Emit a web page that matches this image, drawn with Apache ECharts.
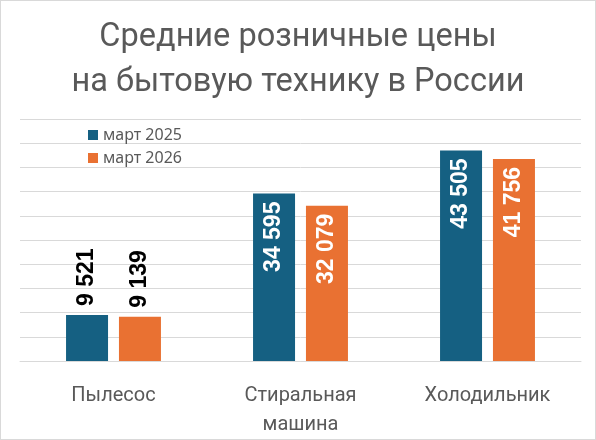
<!DOCTYPE html>
<html><head><meta charset="utf-8">
<script src="https://cdn.jsdelivr.net/npm/echarts@6/dist/echarts.min.js"></script>
<style>html,body{margin:0;padding:0;background:#fff}#c{width:594px;height:438px;border:1px solid #d9d9d9}</style>
</head><body><div id="c"></div>
<script>
const titleText = 'Средние розничные цены\nна бытовую технику в России';
const categories = ['Пылесос', 'Стиральная\nмашина', 'Холодильник'];
const seriesNames = ['март 2025', 'март 2026'];
const values2025 = [9521, 34595, 43505];
const values2026 = [9139, 32079, 41756];
const colors = ['#156082', '#E97132'];

const fmt = v => String(v).replace(/\B(?=(\d{3})+(?!\d))/g, ' ');
function toItems(arr) {
  return arr.map(v => {
    const outside = v < 20000;
    return {
      value: v,
      label: outside ? {
        position: 'top', rotate: 90, align: 'left', verticalAlign: 'middle',
        distance: 9, color: '#000'
      } : {
        position: 'insideTop', rotate: 90, align: 'right', verticalAlign: 'middle',
        distance: 8, color: '#fff'
      }
    };
  });
}
const chart = echarts.init(document.getElementById('c'));
const baseLabel = {
  show: true, fontFamily: 'Liberation Sans', fontWeight: 'bold', fontSize: 23,
  formatter: p => fmt(p.value)
};
chart.setOption({
  animation: false,
  title: {
    text: titleText, left: 'center', top: 9,
    textStyle: { fontFamily: 'Roboto', fontWeight: 'normal', fontSize: 32.5, color: '#595959', lineHeight: 45 }
  },
  legend: {
    orient: 'vertical', left: 82, top: 121, itemWidth: 10, itemHeight: 10, itemGap: 7,
    icon: 'rect',
    textStyle: { fontFamily: 'Noto Sans', fontSize: 16, color: '#595959' },
    data: seriesNames
  },
  grid: { left: 19, right: 14, top: 118, bottom: 76 },
  xAxis: {
    type: 'category', data: categories,
    axisLine: { lineStyle: { color: '#d9d9d9' } }, axisTick: { show: false },
    axisLabel: { fontFamily: 'Roboto', fontSize: 20, color: '#595959', margin: 20, lineHeight: 29 }
  },
  yAxis: {
    type: 'value', min: 0, max: 50000, interval: 5000,
    axisLabel: { show: false }, axisLine: { show: false }, axisTick: { show: false },
    splitLine: { lineStyle: { color: '#d9d9d9' } }
  },
  series: [
    { name: seriesNames[0], type: 'bar', data: toItems(values2025), barWidth: 42, barGap: '26%', itemStyle: { color: colors[0] }, label: baseLabel },
    { name: seriesNames[1], type: 'bar', data: toItems(values2026), barWidth: 42, barGap: '26%', itemStyle: { color: colors[1] }, label: baseLabel }
  ]
});
</script></body></html>
